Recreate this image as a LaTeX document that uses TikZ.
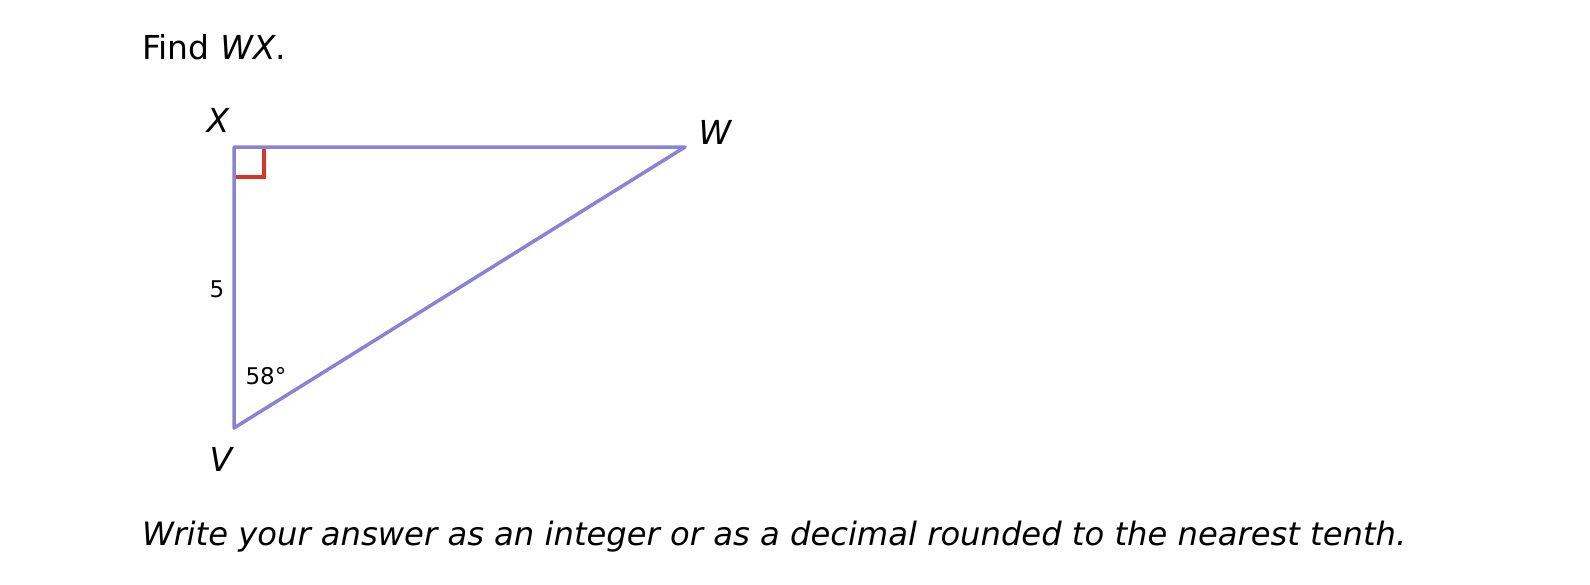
\documentclass[tikz,border=0pt]{standalone}
\usepackage{fontspec}
\setmainfont{DejaVu Sans}
\usepackage{tikz}
\usetikzlibrary{calc}
\tikzset{>=latex}
\definecolor{sidecol}{RGB}{136,130,216}
\definecolor{markcol}{RGB}{218,52,40}
\tikzset{
  side/.style={draw=sidecol, line width=3.5pt, line cap=round, line join=round},
  rightmark/.style={draw=markcol, line width=3.5pt},
  vlabel/.style={font=\fontsize{33}{40}\selectfont\itshape},
  small/.style={font=\fontsize{23}{28}\selectfont},
  prompt/.style={font=\fontsize{33}{40}\selectfont, anchor=base west, inner sep=0pt}
}

\begin{document}
\begin{tikzpicture}[x=1pt, y=-1pt]
      \useasboundingbox (0,0) rectangle (1590,584);
      \coordinate (X) at (234,147);
      \coordinate (W) at (685,147);
      \coordinate (V) at (234,428);
      \node[prompt] (find) at (142,59) {Find \textit{WX}.};
      \draw[rightmark] ($(X)+(0,30)$) -- ($(X)+(30,30)$) -- ($(X)+(30,0)$);
      \draw[side] (X) -- (W) -- (V) -- cycle;
	  \node[vlabel] (lx) at (218,120) {X};
	  \node[vlabel] (lw) at (715,132) {W};
	  \node[vlabel] (lv) at (221,459) {V};
	  \node[small] (five) at (217,289) {5};
	  \node[small] (ang) at (266,376) {58°};
      \node[prompt, font=\fontsize{32.2}{40}\selectfont] (note) at (142,545) {\itshape Write your answer as an integer or as a decimal rounded to the nearest tenth.};
    \end{tikzpicture}
\end{document}
